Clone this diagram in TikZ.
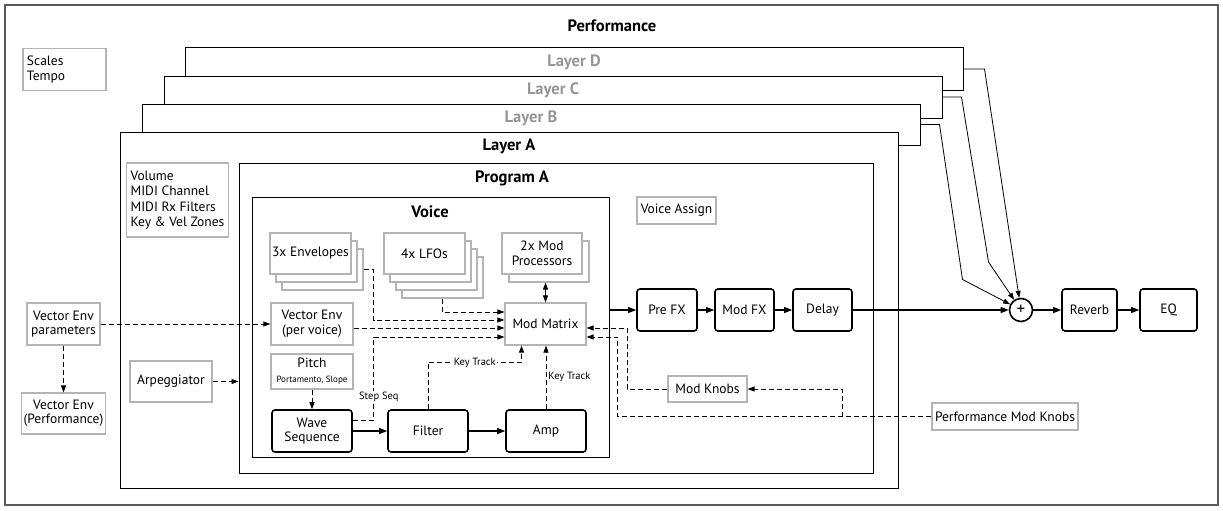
\documentclass[tikz,border=0pt]{standalone}
\usepackage{fontspec}
\setmainfont{PT Sans}
\usepackage{tikz}
\usetikzlibrary{arrows.meta}
\usetikzlibrary{calc}

\definecolor{boxgray}{RGB}{180,180,180}
\definecolor{layergray}{RGB}{150,150,150}
\definecolor{framegray}{RGB}{90,90,90}

\tikzstyle{panel} = [rectangle, draw=black, line width=1pt, fill=white, inner sep=0pt]
\tikzstyle{heading} = [font=\bfseries\fontsize{16.5}{18}\selectfont]
\tikzstyle{graybox} = [rectangle, draw=boxgray, line width=1.1pt, fill=white, align=center, inner sep=2pt]
\tikzstyle{textbox} = [graybox, align=left, inner xsep=4pt]
\tikzstyle{block} = [rectangle, rounded corners=3pt, draw=black, line width=1.6pt, fill=white, align=center, inner sep=2pt]
\tikzstyle{sumnode} = [circle, draw=black, line width=1.6pt, fill=white, minimum size=23pt, inner sep=0pt, font=\fontsize{17}{17}\selectfont]
\tikzstyle{smalltext} = [font=\fontsize{10.5}{12}\selectfont]
\tikzstyle{arrow} = [line width=1.1pt, -{Triangle[length=8pt,width=6pt]}]
\tikzstyle{dasharrow} = [line width=0.9pt, dash pattern=on 5pt off 3pt, -{Triangle[length=7pt,width=5pt]}]
\tikzstyle{dblarrow} = [line width=1pt, {Triangle[length=7pt,width=5pt]}-{Triangle[length=7pt,width=5pt]}]
\tikzstyle{layerline} = [line width=0.8pt, -{Triangle[length=7pt,width=5pt]}]

\begin{document}
\begin{tikzpicture}[x=1pt, y=-1pt, font=\fontsize{13.5}{14.5}\selectfont]
\useasboundingbox (0,0) rectangle (1223,511);

\node (perf) [panel, draw=framegray, line width=1.5pt, minimum width=1213pt, minimum height=500pt] at (611.5,255) {};
\node (perftitle) [heading] at (612,26) {Performance};
\node (scales) [textbox, text width=75pt, minimum height=42pt, font=\fontsize{13.5}{15}\selectfont] at (64.5,69.5) {Scales\\Tempo};

\node (layerD) [panel, minimum width=778pt, minimum height=42pt] at (574,69) {};
\node (layerDtitle) [heading, text=layergray] at (574,62) {Layer D};
\node (layerC) [panel, minimum width=778pt, minimum height=42pt] at (553,97) {};
\node (layerCtitle) [heading, text=layergray] at (553,90) {Layer C};
\node (layerB) [panel, minimum width=778pt, minimum height=41pt] at (531,124.5) {};
\node (layerBtitle) [heading, text=layergray] at (531,118) {Layer B};
\node (layerA) [panel, minimum width=778pt, minimum height=356pt] at (509,310) {};
\node (layerAtitle) [heading] at (509,146) {Layer A};

\node (volume) [textbox, minimum width=97pt, minimum height=74pt, font=\fontsize{13.5}{15.5}\selectfont] at (177.5,200) {Volume\\MIDI Channel\\MIDI Rx Filters\\Key \& Vel Zones};

\node (prog) [panel, minimum width=634pt, minimum height=310pt] at (556,318) {};
\node (progtitle) [heading] at (512,178) {Program A};
\node (vassign) [graybox, minimum width=79pt, minimum height=27pt] at (676.5,210.5) {Voice Assign};

\node (voice) [panel, line width=0.9pt, minimum width=357pt, minimum height=260pt] at (430.5,327) {};
\node (voicetitle) [heading] at (430,212) {Voice};

\node (env3) [graybox, minimum width=81pt, minimum height=41pt] at (322.5,269.5) {};
\node (env2) [graybox, minimum width=81pt, minimum height=41pt] at (316.5,261.5) {};
\node (env1) [graybox, minimum width=81pt, minimum height=41pt] at (310.5,253.5) {3x Envelopes};

\node (lfo4) [graybox, minimum width=81pt, minimum height=41pt] at (442.5,277.5) {};
\node (lfo3) [graybox, minimum width=81pt, minimum height=41pt] at (436.5,269.5) {};
\node (lfo2) [graybox, minimum width=81pt, minimum height=41pt] at (430.5,261.5) {};
\node (lfo1) [graybox, minimum width=81pt, minimum height=41pt] at (424.5,253.5) {4x LFOs};

\node (mp2) [graybox, minimum width=80pt, minimum height=41pt] at (549,261.5) {};
\node (mp1) [graybox, minimum width=80pt, minimum height=41pt] at (542,253.5) {2x Mod\\Processors};

\node (vpv) [graybox, minimum width=82pt, minimum height=42pt] at (312,324) {Vector Env\\(per voice)};
\node (mm) [graybox, minimum width=81pt, minimum height=42pt] at (545.5,324) {Mod Matrix};
\node (pitch) [graybox, minimum width=82pt, minimum height=35pt, font=\fontsize{13.5}{15}\selectfont] at (312,371.5) {Pitch\\{\fontsize{9}{10}\selectfont Portamento, Slope}};

\node (ws) [block, minimum width=80pt, minimum height=42pt] at (312,431) {Wave\\Sequence};
\node (flt) [block, minimum width=80pt, minimum height=42pt] at (428,431) {Filter};
\node (amp) [block, minimum width=80pt, minimum height=42pt] at (546,431) {Amp};

\node (prefx) [block, minimum width=60pt, minimum height=42pt] at (667,310) {Pre FX};
\node (modfx) [block, minimum width=59pt, minimum height=42pt] at (744.5,310) {Mod FX};
\node (delay) [block, minimum width=59pt, minimum height=42pt] at (822.5,310) {Delay};
\node (sum) [sumnode] at (1021,310) {+};
\node (rev) [block, minimum width=55pt, minimum height=42pt] at (1089.5,310) {Reverb};
\node (eq) [block, minimum width=57pt, minimum height=42pt] at (1168.5,310) {EQ};

\node (vep) [graybox, minimum width=73pt, minimum height=42pt] at (63.5,324) {Vector Env\\parameters};
\node (vepf) [graybox, minimum width=81pt, minimum height=41pt] at (63.5,413.5) {Vector Env\\(Performance)};
\node (arp) [graybox, minimum width=82pt, minimum height=41pt] at (171,381.5) {Arpeggiator};
\node (mk) [graybox, minimum width=79pt, minimum height=26pt] at (707.5,389) {Mod Knobs};
\node (pmk) [graybox, minimum width=146pt, minimum height=27pt] at (1005,416.5) {Performance Mod Knobs};

\draw [dasharrow] (vep) -- (vpv);
\draw [dasharrow] (vep) -- (vepf);
\draw [dasharrow] (arp) -- (arp -| prog.west);
\draw [dasharrow] (pitch) -- (ws);

\draw [dasharrow] (lfo4.south) |- ([yshift=12pt]mm.west);
\draw [dasharrow] (env3.east) -- ++(10,0) |- ([yshift=4pt]mm.west);
\draw [dasharrow] ([yshift=-4pt]vpv.east) -- ([yshift=-4pt]mm.west);
\draw [dasharrow] ([yshift=11pt]ws.east) -- ++(21,0) |- node[pos=0.14, xshift=5pt, smalltext, fill=white, inner sep=1pt] {Step Seq} ([yshift=-13pt]mm.west);

\draw [dasharrow] (flt.north) |- node[pos=0.75, smalltext, fill=white, inner sep=1pt] {Key Track} ([xshift=-24pt,yshift=-17pt]mm.south) -- ([xshift=-24pt]mm.south);
\draw [dasharrow] (amp.north) -- node[right, smalltext, inner sep=2pt] {Key Track} (amp.north |- mm.south);
\draw [dblarrow] (mm.north) -- (mm.north |- mp2.south);

\draw [dasharrow] (mk.west) -- ++(-40,0) |- ([yshift=-4pt]mm.east);
\draw [dasharrow] (pmk.west) -| ([xshift=31pt,yshift=-13pt]mm.east) -- ([yshift=-13pt]mm.east);
\draw [dasharrow] ([xshift=95pt]mk.east |- pmk.west) |- (mk.east);

\draw [arrow] (ws) -- (flt);
\draw [arrow] (flt) -- (amp);
\draw [arrow] (voice.east |- prefx.west) -- (prefx);
\draw [arrow] (prefx) -- (modfx);
\draw [arrow] (modfx) -- (delay);
\draw [arrow] (delay) -- (sum);
\draw [arrow] (sum) -- (rev);
\draw [arrow] (rev) -- (eq);

\draw [layerline] (layerB.east) -- ++(19,0) -- ++(23,155) -- (sum);
\draw [layerline] (layerC.east) -- ++(19,0) -- ++(27,165) -- (sum);
\draw [layerline] (layerD.east) -- ++(21,0) -- (sum);
\end{tikzpicture}
\end{document}
